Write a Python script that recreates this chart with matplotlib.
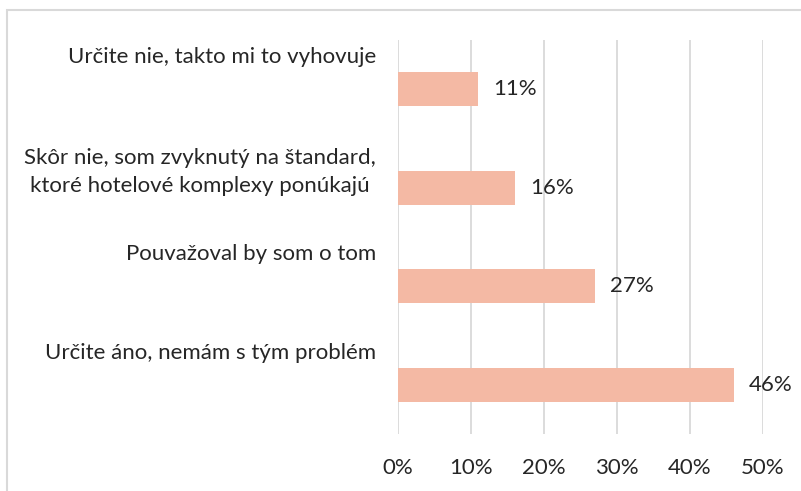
import matplotlib
matplotlib.use("Agg")
import matplotlib.pyplot as plt
from matplotlib.patches import Rectangle
from matplotlib.transforms import blended_transform_factory

categories = [
    "Určite nie, takto mi to vyhovuje",
    "Skôr nie, som zvyknutý na štandard,\nktoré hotelové komplexy ponúkajú",
    "Pouvažoval by som o tom",
    "Určite áno, nemám s tým problém",
]
values = [0.11, 0.16, 0.27, 0.46]
value_labels = ["11%", "16%", "27%", "46%"]
ticks = [0, 0.1, 0.2, 0.3, 0.4, 0.5]
tick_labels = ["0%", "10%", "20%", "30%", "40%", "50%"]

plt.rcParams["font.family"] = ["Lato", "DejaVu Sans"]
text_color = "#262626"
fs = 16
W, H = 801, 491

fig = plt.figure(figsize=(W / 100, H / 100), dpi=100)
# outer chart border
fig.patches.append(Rectangle((7 / W, -0.1), 1.0, 1 - 10 / H + 0.1,
                             transform=fig.transFigure, fill=False,
                             edgecolor="#d9d9d9", linewidth=1.5))

ax = fig.add_axes([398 / W, 1 - 434 / H, (763 - 398) / W, (434 - 40) / H])
y = list(range(len(categories)))
ax.barh(y, values, height=0.345, color="#f4b9a4")
ax.set_xlim(0, 0.5)
ax.set_ylim(len(categories) - 0.5, -0.5)
ax.set_xticks(ticks)
ax.set_xticklabels(tick_labels, fontsize=fs, color=text_color)
ax.tick_params(axis="x", length=0, pad=17)
ax.set_yticks([])
ax.grid(axis="x", color="#d9d9d9", linewidth=1.3)
ax.set_axisbelow(True)
for s in ax.spines.values():
    s.set_visible(False)

for yi, v, lab in zip(y, values, value_labels):
    ax.annotate(lab, (v, yi), xytext=(11, 0), textcoords="offset points",
                va="center", ha="left", fontsize=fs, color=text_color)

trans = blended_transform_factory(ax.transAxes, ax.transData)
for yi, cat in zip(y, categories):
    off = 0.16 if "\n" in cat else 0.325
    ax.text(-22 / (763 - 398), yi - off, cat, transform=trans, ha="right",
            va="center", multialignment="center", fontsize=fs,
            color=text_color, linespacing=1.45)

fig.savefig("out.png", dpi=100)
